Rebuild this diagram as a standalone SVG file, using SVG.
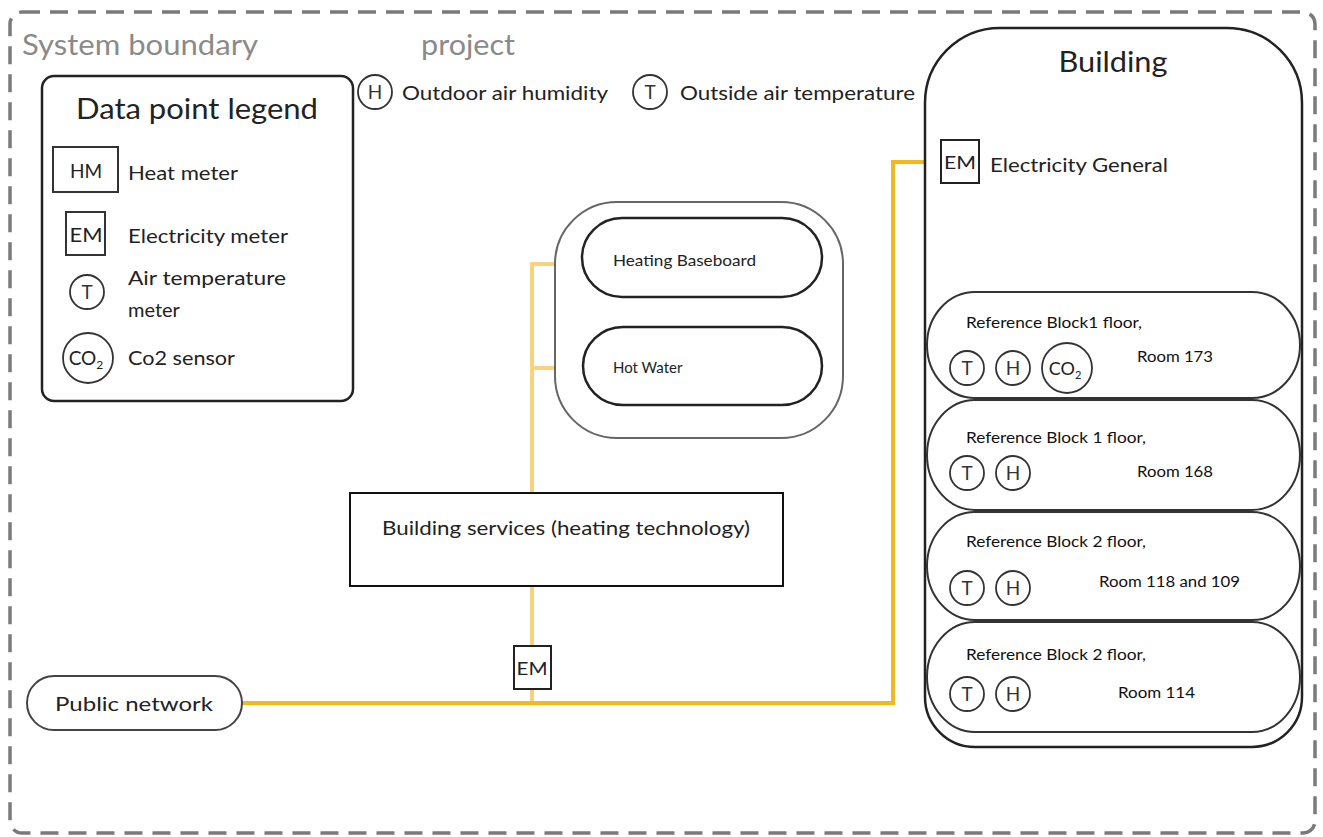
<svg xmlns="http://www.w3.org/2000/svg" width="1323" height="837" viewBox="0 0 1323 837">
<style>
  text { font-family: Lato, "Open Sans", "Liberation Sans", sans-serif; fill: #222; }
  .gray { fill: #8a8a8a; }
  .box { fill: #fff; stroke: #222; stroke-width: 2.5; }
  .sym { fill: #fff; stroke: #333; stroke-width: 1.8; }
  .symt { font-size: 19px; text-anchor: middle; fill: #333; }
  .lg { font-size: 20px; }
  .room { font-size: 15.5px; fill: #111; }
  .pill { fill: #fff; stroke: #333; stroke-width: 2; }
  .feed { fill: none; stroke: #f2b81c; stroke-width: 4; }
  .branch { fill: none; stroke: #f7d27c; stroke-width: 4; }
</style>

<!-- system boundary -->
<g id="boundary">
  <rect x="10" y="12" width="1305" height="821" rx="12" fill="none" stroke="#7a7a7a" stroke-width="3.5" stroke-dasharray="18 10"/>
  <text class="gray" x="22" y="55" font-size="29" textLength="236" lengthAdjust="spacingAndGlyphs">System boundary</text>
  <text class="gray" x="421" y="55" font-size="29" textLength="94" lengthAdjust="spacingAndGlyphs">project</text>
</g>

<!-- connectors -->
<g id="connectors">
  <polyline class="branch" points="583,264 532,264 532,368 583,368"/>
  <line class="branch" x1="532" y1="264" x2="532" y2="703" stroke-width="3"/>
  <polyline class="feed" points="242,703 893,703 893,162 941,162"/>
</g>

<!-- legend -->
<g id="legend">
  <rect x="42" y="76" width="311" height="325" rx="12" class="box" stroke-width="3"/>
  <text x="197" y="119" font-size="29" text-anchor="middle" textLength="242" lengthAdjust="spacingAndGlyphs">Data point legend</text>
  <rect x="53" y="147" width="65" height="45" fill="#fff" stroke="#333" stroke-width="2"/>
  <text x="86" y="178" font-size="19" text-anchor="middle" fill="#333">HM</text>
  <text class="lg" x="128" y="180" textLength="110" lengthAdjust="spacingAndGlyphs">Heat meter</text>
  <rect x="66" y="212" width="39" height="43" fill="#fff" stroke="#333" stroke-width="2"/>
  <text x="86" y="242" font-size="19" text-anchor="middle" fill="#333" textLength="33" lengthAdjust="spacingAndGlyphs">EM</text>
  <text class="lg" x="128" y="243" textLength="160" lengthAdjust="spacingAndGlyphs">Electricity meter</text>
  <circle cx="87" cy="292" r="17" class="sym"/>
  <text class="symt" x="87" y="299">T</text>
  <text class="lg" x="128" y="285" textLength="158" lengthAdjust="spacingAndGlyphs">Air temperature</text>
  <text class="lg" x="128" y="317">meter</text>
  <circle cx="88" cy="358" r="25" class="sym"/>
  <text x="86" y="365" font-size="19" text-anchor="middle" fill="#333">CO<tspan font-size="12" dy="4">2</tspan></text>
  <text class="lg" x="128" y="365" textLength="107" lengthAdjust="spacingAndGlyphs">Co2 sensor</text>
</g>

<!-- outdoor sensors -->
<g id="outdoor">
  <circle cx="375" cy="92" r="17" class="sym"/>
  <text class="symt" x="375" y="99">H</text>
  <text class="lg" x="402" y="100" textLength="206" lengthAdjust="spacingAndGlyphs">Outdoor air humidity</text>
  <circle cx="650" cy="92" r="17" class="sym"/>
  <text class="symt" x="650" y="99">T</text>
  <text class="lg" x="680" y="100" textLength="235" lengthAdjust="spacingAndGlyphs">Outside air temperature</text>
</g>

<!-- heating group -->
<g id="heating">
  <rect x="555" y="202" width="288" height="236" rx="62" fill="#fff" stroke="#666" stroke-width="2"/>
  <g id="heating-baseboard">
    <rect x="582" y="218" width="240" height="79" rx="40" class="box"/>
    <text x="613" y="266" font-size="15" fill="#111" textLength="143" lengthAdjust="spacingAndGlyphs">Heating Baseboard</text>
  </g>
  <g id="hot-water">
    <rect x="583" y="327" width="239" height="78" rx="40" class="box"/>
    <text x="613" y="373" font-size="15" fill="#111">Hot Water</text>
  </g>
</g>

<!-- building services -->
<g id="building-services">
  <rect x="350" y="493" width="433" height="93" fill="#fff" stroke="#111" stroke-width="2"/>
  <text x="566" y="535" font-size="20" text-anchor="middle" fill="#111" textLength="368" lengthAdjust="spacingAndGlyphs">Building services (heating technology)</text>
</g>

<!-- EM meter -->
<g id="em-main">
  <rect x="514" y="646" width="37" height="43" fill="#fff" stroke="#222" stroke-width="2"/>
  <text x="532" y="675" font-size="18" text-anchor="middle" fill="#333" textLength="31" lengthAdjust="spacingAndGlyphs">EM</text>
</g>

<!-- public network -->
<g id="public-network">
  <rect x="27" y="676" width="215" height="54" rx="27" fill="#fff" stroke="#444" stroke-width="2"/>
  <text x="55" y="711" font-size="20" textLength="158" lengthAdjust="spacingAndGlyphs">Public network</text>
</g>

<!-- building -->
<g id="building">
  <path d="M1000,28 H1227 A75,75 0 0 1 1302,103 V697 A50,50 0 0 1 1252,747 H975 A50,50 0 0 1 925,697 V103 A75,75 0 0 1 1000,28 Z" fill="#fff" stroke="#222" stroke-width="2.5"/>
  <text x="1113" y="72" font-size="29" text-anchor="middle" textLength="109" lengthAdjust="spacingAndGlyphs">Building</text>
  <g id="em-general">
    <rect x="941" y="140" width="38" height="43" fill="#fff" stroke="#222" stroke-width="2"/>
    <text x="960" y="169" font-size="18" text-anchor="middle" fill="#333" textLength="32" lengthAdjust="spacingAndGlyphs">EM</text>
    <text class="lg" x="990" y="172" font-size="19" textLength="178" lengthAdjust="spacingAndGlyphs">Electricity General</text>
  </g>

  <g id="room-114">
    <rect x="927" y="622" width="373" height="110" rx="48" ry="55" class="pill"/>
    <text class="room" x="966" y="660" textLength="180" lengthAdjust="spacingAndGlyphs">Reference Block 2 floor,</text>
    <circle cx="967" cy="694" r="17" class="sym"/><text class="symt" x="967" y="701">T</text>
    <circle cx="1013" cy="694" r="17" class="sym"/><text class="symt" x="1013" y="701">H</text>
    <text class="room" x="1118" y="698" textLength="77" lengthAdjust="spacingAndGlyphs">Room 114</text>
  </g>
  <g id="room-118">
    <rect x="927" y="512" width="373" height="108" rx="48" ry="54" class="pill"/>
    <text class="room" x="966" y="547" textLength="180" lengthAdjust="spacingAndGlyphs">Reference Block 2 floor,</text>
    <circle cx="967" cy="588" r="17" class="sym"/><text class="symt" x="967" y="595">T</text>
    <circle cx="1013" cy="588" r="17" class="sym"/><text class="symt" x="1013" y="595">H</text>
    <text class="room" x="1099" y="587" textLength="141" lengthAdjust="spacingAndGlyphs">Room 118 and 109</text>
  </g>
  <g id="room-168">
    <rect x="927" y="400" width="373" height="110" rx="48" ry="55" class="pill"/>
    <text class="room" x="966" y="443" textLength="180" lengthAdjust="spacingAndGlyphs">Reference Block 1 floor,</text>
    <circle cx="967" cy="473" r="17" class="sym"/><text class="symt" x="967" y="480">T</text>
    <circle cx="1013" cy="473" r="17" class="sym"/><text class="symt" x="1013" y="480">H</text>
    <text class="room" x="1137" y="477" textLength="76" lengthAdjust="spacingAndGlyphs">Room 168</text>
  </g>
  <g id="room-173">
    <rect x="927" y="292" width="373" height="106" rx="48" ry="53" class="pill"/>
    <text class="room" x="966" y="328" textLength="176" lengthAdjust="spacingAndGlyphs">Reference Block1 floor,</text>
    <circle cx="967" cy="368" r="17" class="sym"/><text class="symt" x="967" y="375">T</text>
    <circle cx="1013" cy="368" r="17" class="sym"/><text class="symt" x="1013" y="375">H</text>
    <circle cx="1067" cy="368" r="25" class="sym"/>
    <text x="1065" y="375" font-size="18" text-anchor="middle" fill="#333">CO<tspan font-size="11" dy="4">2</tspan></text>
    <text class="room" x="1137" y="362" textLength="76" lengthAdjust="spacingAndGlyphs">Room 173</text>
  </g>
</g>
</svg>
